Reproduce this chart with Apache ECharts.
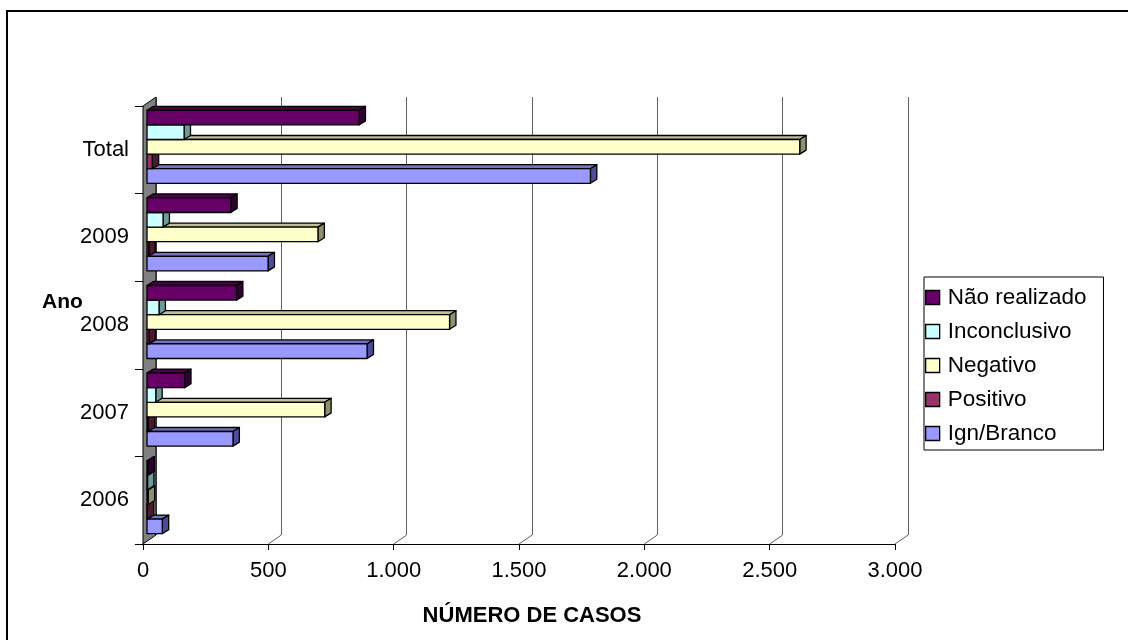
<!DOCTYPE html>
<html>
<head>
<meta charset="utf-8">
<script src="https://cdn.jsdelivr.net/npm/echarts@6/dist/echarts.min.js"></script>
<style>
html,body{margin:0;padding:0;background:#fff;}
#chart{width:1128px;height:640px;}
</style>
</head>
<body>
<div id="chart"></div>
<script>
const categories = ['2006', '2007', '2008', '2009', 'Total'];
const naoRealizado = [4, 150, 357, 334, 846];
const inconclusivo = [2, 35, 48, 64, 148];
const negativo = [5, 709, 1207, 682, 2604];
const positivo = [1, 5, 8, 7, 21];
const ignBranco = [61, 343, 878, 483, 1769];
const xTicks = [0, 500, 1000, 1500, 2000, 2500, 3000];
const xTickLabels = ['0', '500', '1.000', '1.500', '2.000', '2.500', '3.000'];
const seriesNames = ['Não realizado', 'Inconclusivo', 'Negativo', 'Positivo', 'Ign/Branco'];

const FONT = 'Liberation Sans, Arial, sans-serif';
const DX = 13, DY = 9;      // depth of the plot (back wall offset)
const BDX = 6.4, BDY = 4;   // depth of each bar
const BOFF_X = 4, BOFF_Y = 3;

const chart = echarts.init(document.getElementById('chart'), null, {renderer: 'canvas'});

function makeBar(k, front, top, side) {
  return function (params, api) {
    const v = api.value(0), ci = api.value(1);
    const c0 = api.coord([0, ci]);
    const c1 = api.coord([v, ci]);
    const band = api.size([0, 1])[1];
    const h = band / 6;
    const yt = c0[1] - BOFF_Y - 2.5 * h + k * h;
    const x0 = c0[0] + BOFF_X, x1 = c1[0] + BOFF_X;
    const st = {stroke: '#000', lineWidth: 1.3, lineJoin: 'round'};
    return {
      type: 'group',
      children: [
        {type: 'polygon', shape: {points: [[x0, yt], [x1, yt], [x1 + BDX, yt - BDY], [x0 + BDX, yt - BDY]]},
          style: Object.assign({fill: top}, st)},
        {type: 'polygon', shape: {points: [[x1, yt], [x1 + BDX, yt - BDY], [x1 + BDX, yt + h - BDY], [x1, yt + h]]},
          style: Object.assign({fill: side}, st)},
        {type: 'rect', shape: {x: x0, y: yt, width: Math.max(x1 - x0, 0), height: h},
          style: Object.assign({fill: front}, st)}
      ]
    };
  };
}

function barSeries(name, values, k, front, top, side) {
  return {
    name: name,
    type: 'custom',
    xAxisIndex: 0, yAxisIndex: 0,
    z: 3,
    itemStyle: {color: front},
    encode: {x: 0, y: 1},
    data: values.map((v, i) => [v, i]),
    renderItem: makeBar(k, front, top, side)
  };
}

const option = {
  backgroundColor: '#fff',
  animation: false,
  color: ['#660066', '#CCFFFF', '#FFFFCC', '#993366', '#9999FF'],
  graphic: [
    {type: 'rect', shape: {x: 7, y: 11, width: 1200, height: 700}, style: {fill: 'none', stroke: '#000', lineWidth: 2}, z: 0},
    {type: 'text', left: 42, top: 292, style: {text: 'Ano', font: 'bold 21px ' + FONT, fill: '#000'}}
  ],
  legend: {
    orient: 'vertical',
    left: 924, top: 277,
    padding: [9, 17, 5, 1],
    itemGap: 11,
    itemWidth: 14, itemHeight: 14,
    icon: 'rect',
    borderColor: '#000', borderWidth: 1,
    itemStyle: {borderColor: '#000', borderWidth: 1.3},
    textStyle: {fontFamily: FONT, fontSize: 22.5, color: '#000', lineHeight: 22, padding: [0, 0, 0, 3]},
    data: seriesNames,
    selectedMode: false
  },
  grid: [
    {left: 143, right: 233, top: 106, bottom: 96},
    {left: 143 + DX, right: 233 - DX, top: 106 - DY, bottom: 96 + DY}
  ],
  xAxis: [
    {
      type: 'value', gridIndex: 0, min: 0, max: 3000, interval: 500,
      axisLine: {show: true, lineStyle: {color: '#000', width: 1}},
      axisTick: {show: true, length: 6, lineStyle: {color: '#000'}},
      splitLine: {show: false},
      axisLabel: {fontFamily: FONT, fontSize: 22, color: '#000', margin: 16,
        formatter: v => xTickLabels[xTicks.indexOf(v)]}
    },
    {
      type: 'value', gridIndex: 1, min: 0, max: 3000, interval: 500,
      axisLine: {show: false}, axisTick: {show: false}, axisLabel: {show: false},
      splitLine: {show: true, lineStyle: {color: '#606060', width: 1}},
      name: 'NÚMERO DE CASOS', nameLocation: 'middle', nameGap: 70,
      nameTextStyle: {fontFamily: FONT, fontSize: 22, fontWeight: 'bold', color: '#000'}
    }
  ],
  yAxis: [
    {
      type: 'category', gridIndex: 0, data: categories,
      axisLine: {show: false},
      axisTick: {show: true, length: 8, lineStyle: {color: '#000'}},
      axisLabel: {fontFamily: FONT, fontSize: 22, color: '#000', margin: 14},
      splitLine: {show: false}
    },
    {
      type: 'category', gridIndex: 1, data: categories,
      show: false
    }
  ],
  series: [
    {
      type: 'custom', name: 'floor', xAxisIndex: 0, yAxisIndex: 0, z: 1, silent: true,
      data: xTicks.slice(1).map(v => [v, 0]),
      encode: {x: 0, y: 1},
      renderItem: function (params, api) {
        const cs = params.coordSys;
        const bottom = cs.y + cs.height;
        const px = api.coord([api.value(0), 0])[0];
        return {type: 'line', shape: {x1: px, y1: bottom, x2: px + DX, y2: bottom - DY},
          style: {stroke: '#606060', lineWidth: 1}};
      }
    },
    {
      type: 'custom', name: 'wall', xAxisIndex: 0, yAxisIndex: 0, z: 2, silent: true,
      data: [[0, 0]],
      encode: {x: 0, y: 1},
      renderItem: function (params, api) {
        const cs = params.coordSys;
        const x = api.coord([0, 0])[0];
        const top = cs.y, bot = cs.y + cs.height;
        return {type: 'polygon', shape: {points: [[x, bot], [x, top], [x + DX, top - DY], [x + DX, bot - DY]]},
          style: {fill: '#808080', stroke: '#000', lineWidth: 1}};
      }
    },
    barSeries('Ign/Branco', ignBranco, 4, '#9999FF', '#7373BF', '#4C4C99'),
    barSeries('Positivo', positivo, 3, '#993366', '#73264C', '#4C1933'),
    barSeries('Negativo', negativo, 2, '#FFFFCC', '#BFBF99', '#8F8F6F'),
    barSeries('Inconclusivo', inconclusivo, 1, '#CCFFFF', '#99BFBF', '#6F9A9A'),
    barSeries('Não realizado', naoRealizado, 0, '#660066', '#4C004C', '#330033')
  ]
};
chart.setOption(option);
</script>
</body>
</html>
